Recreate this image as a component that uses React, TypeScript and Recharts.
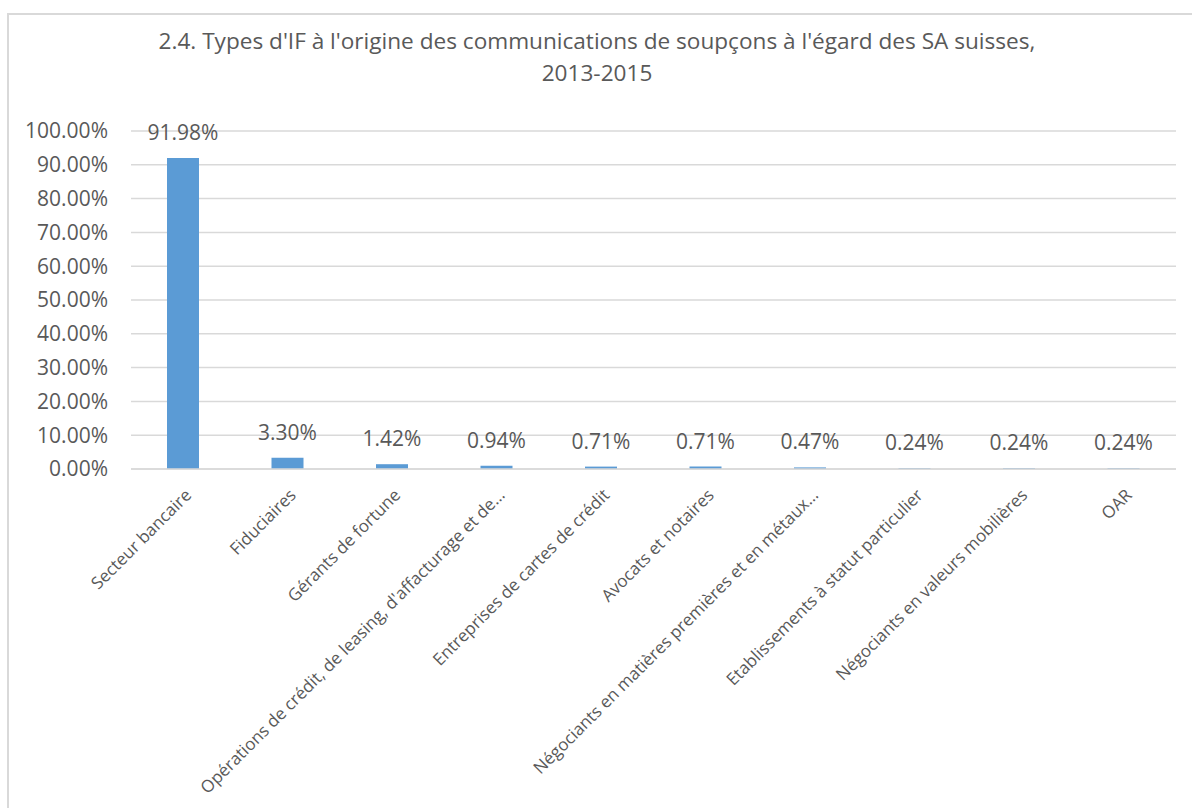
import { BarChart, Bar, XAxis, YAxis, CartesianGrid, LabelList } from 'recharts'

const categories = [
  'Secteur bancaire',
  'Fiduciaires',
  'Gérants de fortune',
  "Opérations de crédit, de leasing, d'affacturage et de…",
  'Entreprises de cartes de crédit',
  'Avocats et notaires',
  'Négociants en matières premières et en métaux…',
  'Etablissements à statut particulier',
  'Négociants en valeurs mobilières',
  'OAR',
]

const shares = [91.98, 3.3, 1.42, 0.94, 0.71, 0.71, 0.47, 0.24, 0.24, 0.24]

const yTicks = [0, 10, 20, 30, 40, 50, 60, 70, 80, 90, 100]

const data = categories.map((name, i) => ({ name, value: shares[i] }))

const FONT = '"Open Sans", "Noto Sans", sans-serif'
const GREY = '#595959'

const CategoryTick = ({ x, y, payload }: any) => (
  <g transform={`translate(${x + 5},${y + 15})`}>
    <text
      transform="rotate(-45)"
      textAnchor="end"
      dy="0.35em"
      fontSize={17}
      fontFamily={FONT}
      fill={GREY}
    >
      {payload.value}
    </text>
  </g>
)

export default function App() {
  return (
    <div
      style={{
        position: 'absolute',
        left: 0,
        top: 0,
        width: 1192,
        height: 808,
        overflow: 'hidden',
        background: '#fff',
        fontFamily: FONT,
      }}
    >
      <div
        style={{
          position: 'absolute',
          left: 7,
          top: 13,
          width: 1300,
          height: 900,
          border: '2px solid #d9d9d9',
          boxSizing: 'border-box',
        }}
      />
      <div
        style={{
          position: 'absolute',
          left: 7,
          width: 1180,
          top: 25,
          textAlign: 'center',
          fontSize: 22.6,
          lineHeight: '32px',
          color: GREY,
        }}
      >
        2.4. Types d'IF à l'origine des communications de soupçons à l'égard des SA suisses,
        <br />
        2013-2015
      </div>
      <div style={{ position: 'absolute', left: 0, top: 0 }}>
        <BarChart
          width={1192}
          height={808}
          data={data}
          margin={{ top: 131, right: 16, left: 0, bottom: 0 }}
        >
          <CartesianGrid vertical={false} stroke="#d9d9d9" strokeWidth={1.5} />
          <XAxis
            dataKey="name"
            interval={0}
            height={339}
            axisLine={{ stroke: '#d9d9d9', strokeWidth: 1.5 }}
            tickLine={false}
            tick={<CategoryTick />}
          />
          <YAxis
            width={131}
            domain={[0, 100]}
            ticks={yTicks}
            interval={0}
            axisLine={false}
            tickLine={false}
            tickMargin={17}
            tickFormatter={(v: number) => `${v.toFixed(2)}%`}
            tick={{ fontSize: 21, fill: GREY, fontFamily: FONT }}
          />
          <Bar dataKey="value" fill="#5b9bd5" barSize={32} isAnimationActive={false}>
            <LabelList
              dataKey="value"
              position="top"
              offset={18}
              formatter={(v: any) => `${Number(v).toFixed(2)}%`}
              style={{ fontSize: 21, fill: GREY, fontFamily: FONT }}
            />
          </Bar>
        </BarChart>
      </div>
    </div>
  )
}
